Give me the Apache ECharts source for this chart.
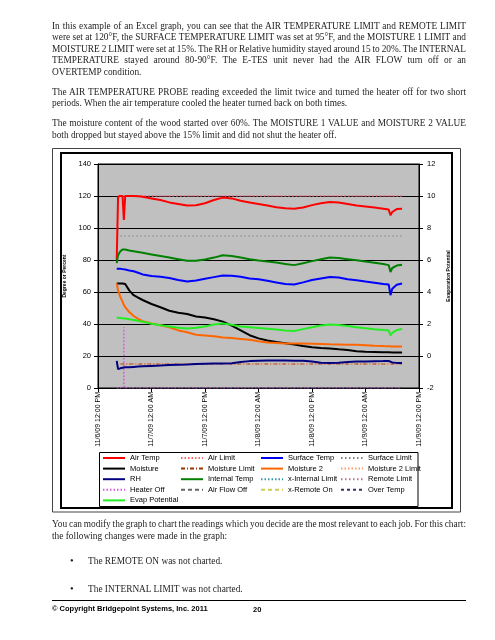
<!DOCTYPE html>
<html><head><meta charset="utf-8">
<script src="https://cdn.jsdelivr.net/npm/echarts@6/dist/echarts.min.js"></script>
<style>
html,body{margin:0;padding:0;background:#fff;}
#wrap{position:relative;width:495px;height:640px;overflow:hidden;}
#chart{position:absolute;left:0;top:0;width:495px;height:640px;}
.ln{position:absolute;left:52px;white-space:nowrap;font-family:'Liberation Serif','DejaVu Serif',serif;font-size:10.5px;line-height:12px;color:#1e1e1e;transform-origin:0 50%;}
.ft{position:absolute;white-space:nowrap;font-family:'Liberation Sans',Arial,sans-serif;font-weight:bold;font-size:7.5px;line-height:10px;color:#000;}
</style></head>
<body><div id="wrap"><div id="chart"></div>
<div class="ln j" style="top:20px">In this example of an Excel graph, you can see that the AIR TEMPERATURE LIMIT and REMOTE LIMIT</div>
<div class="ln j" style="top:31.4px">were set at 120°F, the SURFACE TEMPERATURE LIMIT was set at 95°F, and the MOISTURE 1 LIMIT and</div>
<div class="ln j" style="top:42.8px">MOISTURE 2 LIMIT were set at 15%. The RH or Relative humidity stayed around 15 to 20%. The INTERNAL</div>
<div class="ln j" style="top:54.2px">TEMPERATURE stayed around 80-90°F. The E-TES unit never had the AIR FLOW turn off or an</div>
<div class="ln" style="top:65.6px">OVERTEMP condition.</div>
<div class="ln j" style="top:86px">The AIR TEMPERATURE PROBE reading exceeded the limit twice and turned the heater off for two short</div>
<div class="ln" style="top:97.4px">periods. When the air temperature cooled the heater turned back on both times.</div>
<div class="ln j" style="top:117.4px">The moisture content of the wood started over 60%. The MOISTURE 1 VALUE and MOISTURE 2 VALUE</div>
<div class="ln" style="top:128.8px">both dropped but stayed above the 15% limit and did not shut the heater off.</div>
<div class="ln j" style="top:518px">You can modify the graph to chart the readings which you decide are the most relevant to each job. For this chart:</div>
<div class="ln" style="top:529.5px">the following changes were made in the graph:</div>
<div class="ln" style="top:555px;left:70px">•</div>
<div class="ln" style="top:555px;left:88px">The REMOTE ON was not charted.</div>
<div class="ln" style="top:583px;left:70px">•</div>
<div class="ln" style="top:583px;left:88px">The INTERNAL LIMIT was not charted.</div>
<div style="position:absolute;left:52px;top:600px;width:414px;height:1px;background:#000"></div>
<div class="ft" style="top:604px;left:52px">© Copyright Bridgepoint Systems, Inc. 2011</div>
<div class="ft" style="top:605px;left:253px">20</div>
</div>
<script>
// ---- data (hours since 11/6/09 12:00 PM) ----
const tickLabels = ['11/6/09 12:00 PM','11/7/09 12:00 AM','11/7/09 12:00 PM','11/8/09 12:00 AM','11/8/09 12:00 PM','11/9/09 12:00 AM','11/9/09 12:00 PM'];
const hours = [4.2, 4.5, 5, 5.5, 5.8, 6.1, 7, 8, 9, 10, 12, 14, 16, 18, 20, 22, 24, 26, 28, 30, 32, 34, 36, 38, 40, 42, 44, 46, 48, 50, 52, 54, 56, 58, 60, 62, 64, 65.2, 65.6, 66, 67, 68.2];
const airTemp = [80, 119.5, 120, 120, 105, 120, 120, 120, 119.8, 119.5, 118.5, 117.5, 116, 115, 114, 114.2, 115.5, 117.5, 119, 118.5, 117, 116, 115, 114, 113, 112.3, 112, 112.8, 114.3, 115.5, 116.2, 116, 115, 114, 113.5, 112.8, 112, 111.5, 108, 110, 111.8, 112];
const internalTemp = [78, 83, 85.5, 86.5, 86.5, 86.5, 86, 85.5, 85, 84.5, 83.5, 82.5, 81.5, 80.5, 79.5, 79.5, 80.3, 81.5, 83, 82.5, 81.5, 80.5, 79.7, 79, 78.5, 77.5, 76.8, 78, 79.3, 80.5, 81.5, 81.2, 80.5, 79.8, 79, 78.3, 77.5, 76.8, 72.5, 75, 76.5, 77];
const surfaceTemp = [74.5, 74.7, 74.5, 74.3, 74.2, 74, 73.5, 73, 72, 71, 70, 69.5, 68.8, 67.5, 66.5, 67.2, 68.3, 69.3, 70.3, 70.2, 69.5, 68.5, 68, 67, 66, 65, 64.7, 66, 67.5, 68.5, 69.4, 69, 68, 67.3, 66.5, 65.8, 65, 64.7, 58, 62, 64.5, 65.3];
const moisture = [65.3, 65.3, 65.3, 65.3, 65.3, 65, 61, 58, 56.5, 55, 52.5, 50.5, 48.3, 47, 46.2, 44.7, 44, 43, 41.5, 39, 36, 33, 31, 29.7, 28.8, 28, 27.2, 26.3, 25.5, 25, 24.7, 24.2, 23.8, 23, 22.7, 22.5, 22.3, 22.3, 22.2, 22.2, 22.2, 22.2];
const moisture2 = [65.3, 61, 57, 54, 52, 50.5, 47.5, 45, 43.2, 41.8, 40.3, 39.2, 38, 36, 34.8, 33.3, 32.8, 32.3, 31.6, 31.2, 30.7, 30.2, 29.2, 28.4, 28.1, 27.8, 27.8, 27.8, 27.7, 27.5, 27.3, 27.2, 27.1, 27, 26.7, 26.4, 26.2, 26.1, 26, 26, 26, 26];
const evapPotential = [2.4, 2.4, 2.38, 2.36, 2.35, 2.34, 2.3, 2.25, 2.2, 2.14, 2.02, 1.92, 1.84, 1.76, 1.72, 1.76, 1.85, 1.97, 2.03, 1.95, 1.85, 1.8, 1.75, 1.7, 1.65, 1.6, 1.56, 1.68, 1.8, 1.9, 1.97, 1.94, 1.88, 1.8, 1.73, 1.67, 1.62, 1.6, 1.28, 1.45, 1.62, 1.69];
const rh = [17, 11.8, 12.3, 12.7, 12.8, 12.9, 13, 13.2, 13.4, 13.6, 13.8, 14, 14.3, 14.5, 14.7, 15, 15.2, 15.3, 15.3, 15.5, 16.2, 16.8, 17, 17.2, 17.2, 17.2, 17.1, 17, 16.5, 15.8, 15.6, 15.8, 16.3, 16.5, 16.6, 16.7, 16.8, 16.9, 16.5, 16, 15.7, 15.6];
const limitHours = [5, 68.2];
const airLimit = [120, 120];
const surfaceLimit = [95, 95];
const moistureLimit = [15, 15];
const moisture2Limit = [15, 15];
const remoteLimit = [120, 120];
const heaterHours = [4.2, 5.7, 5.8, 5.9, 68.2];
const heaterOff = [0, 0, 38, 0, 0];
const flagHours = [4.2, 68.2];
const airFlowOff = [0, 0];
const overTemp = [0, 0];

// ---- text lines: narrow serif look + justification ----
const S = 0.89, TW = 414;
document.querySelectorAll('.ln').forEach(el => {
  if (el.textContent === '•') return;
  el.style.transform = 'scaleX(' + S + ')';
  if (!el.classList.contains('j')) return;
  const w = el.getBoundingClientRect().width / S;
  const n = (el.textContent.match(/ /g) || []).length;
  const extra = (TW / S - w) / n;
  if (extra >= -0.8) el.style.wordSpacing = extra + 'px';
  else { el.style.wordSpacing = '-0.8px'; el.style.transform = 'scaleX(' + (TW / (w - 0.8 * n)) + ')'; }
});

const pairs = (xs, ys) => xs.map((x, i) => [x, ys[i]]);
const FF = "'Liberation Sans', Arial, sans-serif";
function ln(name, xs, ys, color, width, type, yIdx) {
  return { name, type: 'line', data: xs ? pairs(xs, ys) : [], yAxisIndex: yIdx || 0,
    symbol: 'none', showSymbol: false, animation: false,
    lineStyle: { color, width, type: type || 'solid' }, itemStyle: { color } };
}
const series = [
  ln('Air Limit', limitHours, airLimit, '#ff6666', 1, [1.5, 2]),
  ln('Surface Limit', limitHours, surfaceLimit, '#808090', 1, [1.5, 2.5]),
  ln('Moisture Limit', limitHours, moistureLimit, '#993300', 1, [4, 2, 1, 2]),
  ln('Moisture 2 Limit', limitHours, moisture2Limit, '#ff9966', 1, [1.5, 2]),
  ln('Remote Limit', limitHours, remoteLimit, '#cc6699', 1, [1.5, 2.5]),
  ln('x-Internal Limit', null, null, '#3399aa', 1, [1.5, 2]),
  ln('x-Remote On', null, null, '#cccc55', 1, [4, 3]),
  ln('Air Flow Off', flagHours, airFlowOff, '#666666', 1, [4, 3]),
  ln('Over Temp', flagHours, overTemp, '#333366', 1, [3, 3]),
  ln('Heater Off', heaterHours, heaterOff, '#dd55dd', 1, [1.5, 2]),
  ln('Air Temp', hours, airTemp, '#ff0000', 2),
  ln('Moisture', hours, moisture, '#000000', 2),
  ln('Moisture 2', hours, moisture2, '#ff6600', 2),
  ln('RH', hours, rh, '#000080', 2),
  ln('Internal Temp', hours, internalTemp, '#008000', 2),
  ln('Surface Temp', hours, surfaceTemp, '#0000ff', 2),
  ln('Evap Potential', hours, evapPotential, '#22ee22', 2, 'solid', 1)
];
const cols = [
  ['Air Temp', 'Moisture', 'RH', 'Heater Off', 'Evap Potential'],
  ['Air Limit', 'Moisture Limit', 'Internal Temp', 'Air Flow Off'],
  ['Surface Temp', 'Moisture 2', 'x-Internal Limit', 'x-Remote On'],
  ['Surface Limit', 'Moisture 2 Limit', 'Remote Limit', 'Over Temp']
];
const colX = [102, 180, 260, 340];

const chart = echarts.init(document.getElementById('chart'), null, { renderer: 'canvas' });
chart.setOption({
  animation: false,
  backgroundColor: 'transparent',
  textStyle: { fontFamily: FF },
  graphic: [
    { type: 'rect', z: 1, shape: { x: 52.5, y: 148.5, width: 408, height: 363.5 }, style: { fill: 'none', stroke: '#444', lineWidth: 1 } },
    { type: 'rect', z: 1, shape: { x: 61, y: 153, width: 391, height: 355 }, style: { fill: 'none', stroke: '#000', lineWidth: 2 } },
    { type: 'rect', z: 1, shape: { x: 99.5, y: 452.5, width: 318.5, height: 54 }, style: { fill: '#fff', stroke: '#000', lineWidth: 1 } }
  ],
  grid: { left: 98, top: 164, width: 321, height: 224, show: true, backgroundColor: '#c0c0c0', borderColor: '#000', borderWidth: 1 },
  xAxis: {
    type: 'value', min: 0, max: 72, interval: 12,
    axisLine: { show: true, lineStyle: { color: '#000', width: 1 } },
    axisTick: { show: true, length: 4, lineStyle: { color: '#000' } },
    splitLine: { show: false },
    axisLabel: { rotate: 90, fontSize: 7, color: '#000', margin: 4, fontFamily: FF,
      formatter: v => tickLabels[Math.round(v / 12)] || '' }
  },
  yAxis: [
    { type: 'value', min: 0, max: 140, interval: 20, position: 'left',
      name: 'Degree or Percent', nameLocation: 'middle', nameRotate: 90, nameGap: 23.5,
      nameTextStyle: { fontSize: 5, fontWeight: 'bold', color: '#000', fontFamily: FF },
      axisLine: { show: true, lineStyle: { color: '#000' } },
      axisTick: { show: true, length: 4, lineStyle: { color: '#000' } },
      axisLabel: { fontSize: 7.5, color: '#000', margin: 7, fontFamily: FF },
      splitLine: { show: true, lineStyle: { color: '#000', width: 1 } } },
    { type: 'value', min: -2, max: 12, interval: 2, position: 'right',
      name: 'Evaporation Potential', nameLocation: 'middle', nameRotate: 90, nameGap: 17.5,
      nameTextStyle: { fontSize: 5, fontWeight: 'bold', color: '#000', fontFamily: FF },
      axisLine: { show: true, lineStyle: { color: '#000' } },
      axisTick: { show: true, length: 4, lineStyle: { color: '#000' } },
      axisLabel: { fontSize: 7.5, color: '#000', margin: 8, fontFamily: FF },
      splitLine: { show: false } }
  ],
  legend: cols.map((names, i) => ({
    data: names, orient: 'vertical', left: colX[i], top: 453, padding: 0,
    itemWidth: 22, itemHeight: 10, itemGap: 0.6, selectedMode: false, z: 10,
    itemStyle: { opacity: 0 },
    textStyle: { fontSize: 7.5, color: '#000', fontFamily: FF, lineHeight: 10 }
  })),
  series
});
</script>
</body></html>
